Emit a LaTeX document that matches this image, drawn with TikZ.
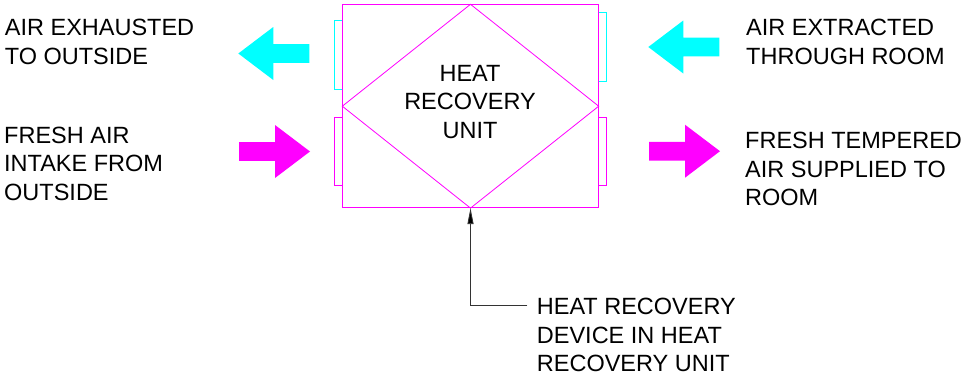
\documentclass[tikz,border=0pt]{standalone}
\usepackage{fontspec}
\setmainfont{Liberation Sans}
\usepackage{xcolor}
\usetikzlibrary{arrows.meta,positioning}

\definecolor{hrmagenta}{RGB}{255,0,255}
\definecolor{hrcyan}{RGB}{0,255,255}

\tikzset{
	pics/blockarrow/.style={code={
		\fill (0,-9.3) -- (36,-9.3) -- (36,-26.5) -- (71,0) -- (36,26.5) -- (36,9.3) -- (0,9.3) -- cycle;
	}},
	flowtext/.style={font=\fontsize{23.5}{28.5}\selectfont,align=left,anchor=north west,inner sep=0pt},
	unitline/.style={draw=hrmagenta,line width=0.8pt}
}

\begin{document}
\begin{tikzpicture}[x=1pt,y=-1pt]
		\useasboundingbox (0,0) rectangle (966,375);
		% flanges
		\draw[draw=hrcyan,line width=0.8pt] (334,20.7) rectangle (342.7,89.3);
		\draw[unitline] (334,117) rectangle (342.7,185.7);
		\draw[draw=hrcyan,line width=0.8pt] (598.3,12.3) rectangle (606.7,81);
		\draw[unitline] (598.3,117) rectangle (606.7,185.7);
		% unit and heat exchanger
		\node[unitline,rectangle,minimum width=255.6pt,minimum height=203pt,inner sep=0pt] (unit) at (470.5,106.2) {};
		\draw[unitline] (unit.north) -- (unit.east) -- (unit.south) -- (unit.west) -- cycle;
		\node[flowtext,align=center,anchor=north] (unitname) at (470,65) {HEAT\\RECOVERY\\UNIT};
		% air flows
		\pic[hrcyan] at (309.3,53.5) [rotate=180] {blockarrow};
		\pic[hrmagenta] at (239,151.5) {blockarrow};
		\pic[hrcyan] at (719.3,47) [rotate=180] {blockarrow};
		\pic[hrmagenta] at (649,151.2) {blockarrow};
		\node[flowtext] (exhaust)   at (4.7,19)    {AIR EXHAUSTED\\TO OUTSIDE};
		\node[flowtext] (intake)    at (4,126.7)   {FRESH AIR\\INTAKE FROM\\OUTSIDE};
		\node[flowtext] (extract)   at (746,19)    {AIR EXTRACTED\\THROUGH ROOM};
		\node[flowtext] (supply)    at (745,132.3) {FRESH TEMPERED\\AIR SUPPLIED TO\\ROOM};
		% leader to the exchanger
		\node[flowtext] (device)    at (536.7,298) {HEAT RECOVERY\\DEVICE IN HEAT\\RECOVERY UNIT};
		\coordinate (leaderend) at (527.3,305);
		\draw[black!80,line width=0.8pt,-{Triangle[length=16pt,width=6pt,fill=black]}] (leaderend) -| (unit.south);
	\end{tikzpicture}
\end{document}
